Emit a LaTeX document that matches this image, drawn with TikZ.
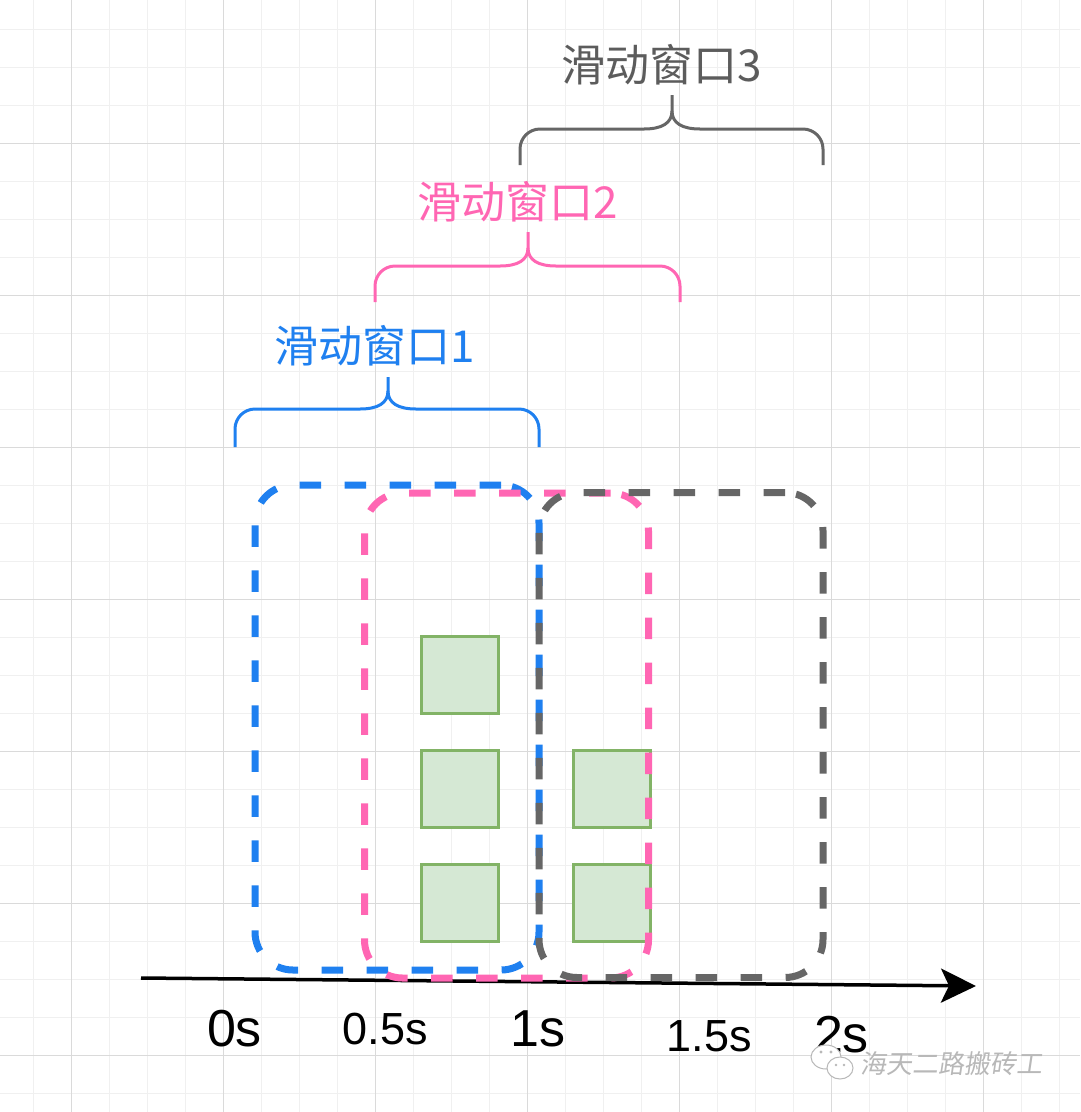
\documentclass[tikz,border=0pt]{standalone}
\usepackage{fontspec}
\setmainfont{Liberation Sans}
\newfontfamily\cjk{Noto Sans CJK SC}
\newfontfamily\cjkwm[FakeSlant=0.15]{Noto Sans CJK SC}
\usetikzlibrary{arrows.meta}
\definecolor{winblue}{HTML}{1F80F0}
\definecolor{winpink}{HTML}{FF66B3}
\definecolor{wingray}{HTML}{666666}
\definecolor{wingraytext}{HTML}{5C5C5C}
\definecolor{gridmajor}{HTML}{DADADA}
\definecolor{gridminor}{HTML}{F0F0F0}
\definecolor{boxfill}{HTML}{D5E8D4}
\definecolor{boxline}{HTML}{82B366}
\definecolor{wmgray}{HTML}{B8B8B8}
\tikzset{
  minorgrid/.style={draw=gridminor, line width=1pt},
  majorgrid/.style={draw=gridmajor, line width=1pt},
  winbox/.style={rectangle, rounded corners=38pt, line width=7pt, dash pattern=on 21.5pt off 23.5pt, inner sep=0pt, minimum width=284pt, minimum height=485pt},
  evbox/.style={rectangle, draw=boxline, fill=boxfill, line width=3pt, minimum size=77pt, inner sep=0pt},
  bracestyle/.style={line width=3pt, line join=round},
  winlabel/.style={font=\cjk\fontsize{44}{50}\selectfont, inner sep=0pt},
  biglabel/.style={font=\fontsize{52}{60}\selectfont, inner sep=0pt},
  smalllabel/.style={font=\fontsize{45}{52}\selectfont, inner sep=0pt},
  wmtext/.style={font=\cjkwm\fontsize{26}{30}\selectfont, inner sep=0pt, text=wmgray},
}
% #1 colour, #2 left x, #3 right x, #4 middle x, #5 bar y, #6 bottom y, #7 tip y
\newcommand{\curlybr}[7]{%
  \draw[bracestyle, draw=#1] (#2,#6) -- (#2,#5+20) .. controls (#2,#5+9) and (#2+9,#5) .. (#2+20,#5)
    -- (#4-28,#5) .. controls (#4-10,#5) and (#4,#5-6) .. (#4,#5-18) -- (#4,#7);
  \draw[bracestyle, draw=#1] (#4,#5-18) .. controls (#4,#5-6) and (#4+10,#5) .. (#4+28,#5)
    -- (#3-20,#5) .. controls (#3-9,#5) and (#3,#5+9) .. (#3,#5+20) -- (#3,#6);
}
\begin{document}
\begin{tikzpicture}[x=1pt, y=-1pt]
\useasboundingbox (0,0) rectangle (1080,1112);
\fill[white] (0,0) rectangle (1080,1112);
% grid
\foreach \i in {0,...,29} {\draw[minorgrid] ({-5+38*\i},0) -- ({-5+38*\i},1112);}
\foreach \j in {0,...,30} {\draw[minorgrid] (0,{-9+38*\j}) -- (1080,{-9+38*\j});}
\foreach \i in {0,...,6} {\draw[majorgrid] ({71+152*\i},0) -- ({71+152*\i},1112);}
\foreach \j in {0,...,7} {\draw[majorgrid] (0,{-9+152*\j}) -- (1080,{-9+152*\j});}

% braces and labels
\curlybr{winblue}{235}{539}{388}{409}{447}{377}
\curlybr{winpink}{375}{680}{528}{266}{302}{232}
\curlybr{wingray}{520}{823}{672}{129}{165}{95}
\node[winlabel, text=winblue] (lab1) at (375,346) {滑动窗口1};
\node[winlabel, text=winpink] (lab2) at (518,202) {滑动窗口2};
\node[winlabel, text=wingraytext] (lab3) at (662,65) {滑动窗口3};

% time axis
\coordinate (axstart) at (141,978);
\coordinate (axend) at (976,986);
\draw[line width=3.5pt, -{Stealth[length=35pt, width=34pt, inset=8pt]}] (axstart) -- (axend);

% events
\node[evbox] (e1) at (459.5,674.5) {};
\node[evbox] (e2) at (459.5,788.5) {};
\node[evbox] (e3) at (459.5,902.5) {};
\node[evbox] (e4) at (611.5,788.5) {};
\node[evbox] (e5) at (611.5,902.5) {};

% windows
\node[winbox, draw=winblue] (w1) at (397,727.5) {};
\node[winbox, draw=winpink] (w2) at (506.5,735.5) {};
\node[winbox, draw=wingray] (w3) at (681,735) {};

% time labels
\node[biglabel] (t0) at (234.5,1028.5) {0s};
\node[smalllabel] (t05) at (385.5,1029) {0.5s};
\node[biglabel] (t1) at (538,1028.5) {1s};
\node[smalllabel] (t15) at (709,1036) {1.5s};
\node[biglabel] (t2) at (841.5,1035) {2s};

% watermark
\draw[draw=wmgray, fill=white, line width=1pt] (826,1057) ellipse (15 and 12);
\draw[draw=wmgray, fill=white, line width=1pt] (840,1068) ellipse (13 and 11);
\fill[wmgray] (821,1052) circle (1.6) (831,1052) circle (1.6) (836,1065) circle (1.4) (844,1065) circle (1.4);
\node[wmtext] (wm) at (951,1064) {海天二路搬砖工};
\end{tikzpicture}
\end{document}
